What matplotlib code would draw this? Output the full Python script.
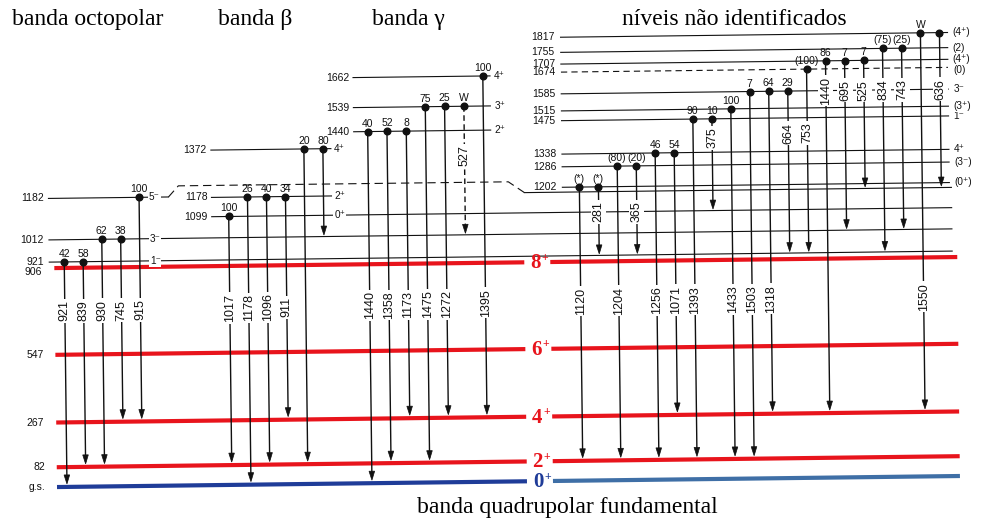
import matplotlib
matplotlib.use("Agg")
import matplotlib.pyplot as plt
from matplotlib.transforms import Affine2D
from matplotlib.patches import Polygon

plt.rcParams['font.family'] = ['Liberation Sans', 'DejaVu Sans']
plt.rcParams['lines.scale_dashes'] = False

# ---------------- data ----------------
ground_E = [0, 82, 267, 547, 906]
ground_text = ["g.s.", "82", "267", "547", "906"]
ground_J = ["0", "2", "4", "6", "8"]

level_E = [921, 1012, 1182, 1099, 1178, 1372, 1440, 1539, 1662,
           1202, 1286, 1338, 1475, 1515, 1585, 1674, 1707, 1755, 1817]
level_spin = ["1⁻", "3⁻", "5⁻", "0⁺", "2⁺", "4⁺", "2⁺", "3⁺", "4⁺",
              "(0⁺)", "(3⁻)", "4⁺", "1⁻", "(3⁺)", "3⁻", "(0)", "(4⁺)", "(2)", "(4⁺)"]
level_band = ["oct"] * 3 + ["beta"] * 3 + ["gamma"] * 3 + ["unid"] * 10

trans_band = ["oct"] * 5 + ["beta"] * 6 + ["gamma"] * 7 + ["unid"] * 20
trans_Ei = [921, 921, 1012, 1012, 1182,
            1099, 1178, 1178, 1178, 1372, 1372,
            1440, 1440, 1440, 1539, 1539, 1539, 1662,
            1202, 1202, 1286, 1286, 1338, 1338, 1475, 1475, 1515,
            1585, 1585, 1585, 1674, 1707, 1707, 1707, 1755, 1755, 1817, 1817]
trans_Ef = [0, 82, 82, 267, 267,
            82, 0, 82, 267, 82, 1012,
            0, 82, 267, 82, 267, 1012, 267,
            82, 921, 82, 921, 82, 267, 82, 1099, 82,
            82, 267, 921, 921, 267, 1012, 1182, 921, 1012, 267, 1182]
trans_label = ["921", "839", "930", "745", "915",
               "1017", "1178", "1096", "911", "", "",
               "1440", "1358", "1173", "1475", "1272", "527", "1395",
               "1120", "281", "1204", "365", "1256", "1071", "1393", "375", "1433",
               "1503", "1318", "664", "753", "1440", "695", "525", "834", "743", "1550", "636"]
trans_I = ["42", "58", "62", "38", "100",
           "100", "26", "40", "34", "20", "80",
           "40", "52", "8", "75", "25", "W", "100",
           "(*)", "(*)", "(80)", "(20)", "46", "54", "90", "10", "100",
           "7", "64", "29", "(100)", "86", "7", "7", "(75)", "(25)", "W", ""]
trans_tentative = ["527"]

band_titles = ["banda octopolar", "banda β", "banda γ", "níveis não identificados"]
bottom_title = "banda quadrupolar fundamental"

# ---------------- layout ----------------
RED = "#e8141c"
BLUE_L = "#1f3c98"
BLUE_R = "#3f6fa6"
INK = "#111111"

band_layout = {
    "oct":   dict(lab=47,  x0=52,  x1=955, spin=158, spin_ha="center", col0=67,  dcol=18.9),
    "beta":  dict(lab=211, x0=215, x1=335, spin=343, spin_ha="center", col0=232, dcol=19.0),
    "gamma": dict(lab=354, x0=358, x1=495, spin=499, spin_ha="left",   col0=372, dcol=19.3),
    "unid":  dict(lab=560, x0=566, x1=953, spin=958, spin_ha="left",   col0=583, dcol=19.05),
}
full_width = [921, 1012, 1099]
dashed_levels = [1674]
spin_dv = {1674: 3.0, 1707: -0.5}

label_v = ([311] * 5 + [310, 310, 310, 310, None, None] +
           [309, 309, 309, 309, 309, 161, 308] +
           [307.5, 218.6, 307.5, 218.6, 307.5, 307.5, 307.5, 145.5, 307.5,
            307.5, 307.5, 142, 142, 100, 100, 100, 100, 100, 307.5, 100])


def vpos(E):
    if E <= 906:
        return 487 - 0.2417 * E
    return 262 - 0.244 * (E - 921)


fig = plt.figure(figsize=(9.82, 5.25), dpi=100)
ax = fig.add_axes([0, 0, 1, 1])
ax.set_xlim(0, 982)
ax.set_ylim(525, 0)
ax.axis("off")
R = Affine2D().rotate_deg_around(60, 487, -0.7) + ax.transData

white = dict(facecolor="white", edgecolor="none", pad=0.6)

# ---------------- ground band ----------------
for E, t, J in zip(ground_E, ground_text, ground_J):
    v = vpos(E)
    col_l = BLUE_L if E == 0 else RED
    col_r = BLUE_R if E == 0 else RED
    ax.plot([57, 527], [v, v], color=col_l, lw=3.0, transform=R, zorder=2, solid_capstyle="butt")
    ax.plot([553, 960], [v, v], color=col_r, lw=3.0, transform=R, zorder=2, solid_capstyle="butt")
    ax.text(538, v + 1, J, color=col_l, fontsize=15, fontweight="bold",
            family="Liberation Serif", ha="center", va="center", transform=R, zorder=5)
    ax.text(547.5, v - 4.5, "+", color=col_l, fontsize=8.5, fontweight="bold",
            family="Liberation Serif", ha="center", va="center", transform=R, zorder=5)
    dv = 4 if E == 906 else 0
    ax.text(45, v + dv, t, fontsize=7.5, ha="right", va="center", color=INK, transform=R)

# ---------------- excited levels ----------------
for E, J, b in zip(level_E, level_spin, level_band):
    L = band_layout[b]
    v = vpos(E)
    x1 = 955 if E in full_width else L["x1"]
    ls = (0, (4.5, 3)) if E in dashed_levels else "-"
    if E == 1182:
        vu = v - 11
        ax.plot([L["x0"], 172], [v, v], color=INK, lw=0.8, transform=R, zorder=3)
        ax.plot([172, 182, 512, 528], [v, vu, vu, v], color=INK, lw=0.8,
                ls=(0, (6, 3.5)), transform=R, zorder=3)
        ax.plot([528, 955], [v, v], color=INK, lw=0.8, transform=R, zorder=3)
    else:
        ax.plot([L["x0"], x1], [v, v], color=INK, lw=0.8, ls=ls, transform=R, zorder=3)
    ax.text(L["lab"], v, str(E), fontsize=7.5, ha="right", va="center", color=INK, transform=R)
    ax.text(L["spin"], v + spin_dv.get(E, 0.0), J, fontsize=7.2, ha=L["spin_ha"], va="center",
            color=INK, bbox=white, transform=R, zorder=6)

# ---------------- transitions ----------------
count = {}
for b, Ei, Ef, lab, I, lv in zip(trans_band, trans_Ei, trans_Ef, trans_label, trans_I, label_v):
    L = band_layout[b]
    k = count.get(b, 0)
    count[b] = k + 1
    u = L["col0"] + k * L["dcol"]
    vi = vpos(Ei)
    vf = vpos(Ef)
    tip = vf - (3.0 if Ef in ground_E else 1.5)
    ls = (0, (4, 2.5)) if lab in trans_tentative else "-"
    ax.plot([u, u], [vi, tip - 3], color=INK, lw=1.0, ls=ls, transform=R, zorder=4)
    ax.add_patch(Polygon([(u, tip), (u - 2.8, tip - 9), (u + 2.8, tip - 9)], closed=True,
                         facecolor=INK, edgecolor=INK, lw=0.5, transform=R, zorder=4))
    ax.plot([u], [vi], "o", ms=4.8, color=INK, transform=R, zorder=5)
    if I:
        ax.text(u, vi - 5, I, fontsize=7.5, ha="center", va="baseline", color=INK, transform=R)
    if lab and lv is not None:
        ax.text(u, lv, lab, fontsize=9, rotation=90, ha="center", va="center", color=INK,
                bbox=dict(facecolor="white", edgecolor="none", pad=1.2), transform=R, zorder=6)

# ---------------- titles ----------------
title_x = [12, 218, 372, 622]
for t, x in zip(band_titles, title_x):
    ax.text(x, 25, t, fontsize=17, family="Liberation Serif", ha="left", va="baseline", color="black")
ax.text(567, 513, bottom_title, fontsize=17, family="Liberation Serif", ha="center",
        va="baseline", color="black")

fig.savefig("out.png", dpi=100)
